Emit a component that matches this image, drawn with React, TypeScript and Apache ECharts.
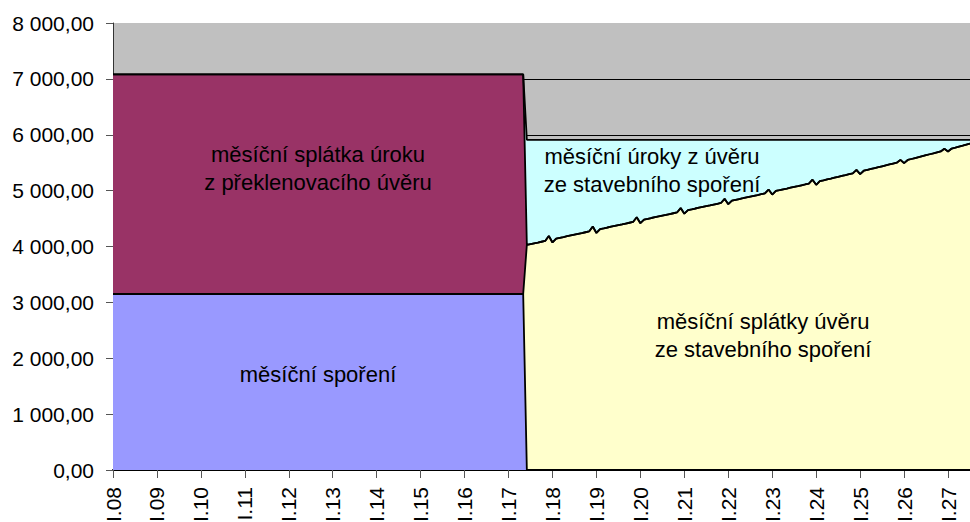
import React, { useEffect, useRef } from "react";
import * as echarts from "echarts";

// ---- categories (monthly, I.08 ... VII.27) ----
const monthNumerals = ["I", "II", "III", "IV", "V", "VI", "VII", "VIII", "IX", "X", "XI", "XII"];
const yearLabels = ["08", "09", "10", "11", "12", "13", "14", "15", "16", "17", "18", "19", "20", "21", "22", "23", "24", "25", "26", "27"];
const monthCount = 235;
const categories = yearLabels.flatMap((y) => monthNumerals.map((m) => `${m}.${y}`)).slice(0, monthCount);

// ---- series values ----
// [value, number of months]
const savingsRuns: [number, number][] = [[3150, 113], [0, 122]];
const bridgeInterestRuns: [number, number][] = [[3930, 113], [0, 122]];
const beforeLoanRuns: [number, number][] = [[0, 113]];

// monthly repayment of the building-savings loan, VI.17 ... VII.27
const loanPrincipal = [
  4030, 4044, 4058, 4071, 4085, 4099, 4188,
  4072, 4141, 4155, 4169, 4184, 4198, 4212, 4226, 4240, 4255, 4269, 4358,
  4242, 4311, 4325, 4340, 4354, 4368, 4382, 4396, 4411, 4425, 4439, 4523,
  4417, 4481, 4495, 4510, 4524, 4538, 4552, 4566, 4581, 4595, 4609, 4688,
  4587, 4651, 4665, 4680, 4694, 4708, 4722, 4736, 4751, 4765, 4779, 4853,
  4757, 4821, 4836, 4850, 4864, 4879, 4893, 4907, 4921, 4936, 4950, 5019,
  4929, 4994, 5008, 5023, 5037, 5052, 5067, 5081, 5096, 5110, 5125, 5195,
  5104, 5170, 5185, 5201, 5216, 5232, 5247, 5263, 5278, 5294, 5309, 5370,
  5295, 5356, 5372, 5388, 5404, 5420, 5436, 5452, 5468, 5484, 5500, 5551,
  5492, 5549, 5566, 5583, 5600, 5617, 5634, 5651, 5667, 5684, 5701, 5748,
  5700, 5753, 5770, 5788, 5805, 5823, 5840,
];

// monthly interest of the building-savings loan, VI.17 ... VII.27
const loanInterest = [
  1880, 1866, 1852, 1839, 1825, 1811, 1722,
  1838, 1769, 1755, 1741, 1726, 1712, 1698, 1684, 1670, 1655, 1641, 1552,
  1668, 1599, 1585, 1570, 1556, 1542, 1528, 1514, 1499, 1485, 1471, 1387,
  1493, 1429, 1415, 1400, 1386, 1372, 1358, 1344, 1329, 1315, 1301, 1222,
  1323, 1259, 1245, 1230, 1216, 1202, 1188, 1174, 1159, 1145, 1131, 1057,
  1153, 1089, 1074, 1060, 1046, 1031, 1017, 1003, 989, 974, 960, 891,
  981, 916, 902, 887, 873, 858, 843, 829, 814, 800, 785, 715,
  806, 740, 725, 709, 694, 678, 663, 647, 632, 616, 601, 540,
  615, 554, 538, 522, 506, 490, 474, 458, 442, 426, 410, 359,
  418, 361, 344, 327, 310, 293, 276, 259, 243, 226, 209, 162,
  210, 157, 140, 122, 105, 87, 70,
];

const yMin = 0;
const yMax = 8000;
const yStep = 1000;

const expandRuns = (runs: [number, number][]) => {
  const out: number[] = [];
  runs.forEach(([v, n]) => {
    for (let i = 0; i < n; i++) out.push(v);
  });
  return out;
};

const savingsData = expandRuns(savingsRuns);
const bridgeInterestData = expandRuns(bridgeInterestRuns);
const loanPrincipalData = [...expandRuns(beforeLoanRuns), ...loanPrincipal];
const loanInterestData = [...expandRuns(beforeLoanRuns), ...loanInterest];

const formatValue = (v: number) =>
  Math.round(v).toString().replace(/\B(?=(\d{3})+(?!\d))/g, " ") + ",00";

const FONT = "Arial, 'Liberation Sans', sans-serif";

export default function App() {
  const ref = useRef<HTMLDivElement>(null);

  useEffect(() => {
    if (!ref.current) return;
    const chart = echarts.init(ref.current, undefined, { renderer: "svg" });

    const areaSeries = (name: string, data: number[], color: string) => ({
      name,
      type: "line",
      stack: "total",
      data,
      symbol: "none",
      showSymbol: false,
      smooth: false,
      lineStyle: { color: "#000", width: 1.8 },
      itemStyle: { color },
      areaStyle: { color, opacity: 1 },
      emphasis: { disabled: true },
    });

    const txt = (text: string, x: number, y: number) => ({
      type: "text",
      x,
      y,
      silent: true,
      style: {
        text,
        fill: "#000",
        font: `22px ${FONT}`,
        align: "center",
        verticalAlign: "middle",
        lineHeight: 28,
      },
      z: 100,
    });

    chart.setOption({
      animation: false,
      backgroundColor: "#fff",
      textStyle: { fontFamily: FONT },
      grid: {
        left: 113,
        top: 23,
        width: 857,
        height: 447,
        show: true,
        backgroundColor: "#C0C0C0",
        borderWidth: 0,
        containLabel: false,
        outerBoundsMode: "none",
      },
      xAxis: {
        type: "category",
        data: categories,
        boundaryGap: false,
        axisLine: { show: true, lineStyle: { color: "#000", width: 2 } },
        axisTick: {
          show: true,
          interval: 11,
          length: 8,
          lineStyle: { color: "#555", width: 1 },
        },
        axisLabel: {
          interval: 11,
          rotate: 90,
          margin: 17,
          color: "#000",
          fontSize: 21,
          fontFamily: FONT,
        },
        splitLine: { show: false },
      },
      yAxis: {
        type: "value",
        min: yMin,
        max: yMax,
        interval: yStep,
        axisLine: { show: true, lineStyle: { color: "#333", width: 1 } },
        axisTick: { show: true, length: 7, lineStyle: { color: "#555", width: 1 } },
        axisLabel: {
          margin: 19,
          color: "#000",
          fontSize: 21,
          fontFamily: FONT,
          formatter: (v: number) => formatValue(v),
        },
        splitLine: {
          show: true,
          showMaxLine: false,
          lineStyle: { color: "#000", width: 1 },
        },
      },
      series: [
        areaSeries("měsíční spoření", savingsData, "#9999FF"),
        areaSeries("měsíční splátky úvěru ze stavebního spoření", loanPrincipalData, "#FFFFCC"),
        areaSeries("měsíční splátka úroku z překlenovacího úvěru", bridgeInterestData, "#993366"),
        areaSeries("měsíční úroky z úvěru ze stavebního spoření", loanInterestData, "#CCFFFF"),
      ],
      graphic: [
        txt("měsíční splátka úroku\nz překlenovacího úvěru", 318, 168),
        txt("měsíční úroky z úvěru\nze stavebního spoření", 652, 170),
        txt("měsíční splátky úvěru\nze stavebního spoření", 763, 335),
        txt("měsíční spoření", 318, 374),
      ],
    });

    return () => chart.dispose();
  }, []);

  return (
    <div
      ref={ref}
      style={{ position: "absolute", left: 0, top: 0, width: 970, height: 522 }}
    />
  );
}
